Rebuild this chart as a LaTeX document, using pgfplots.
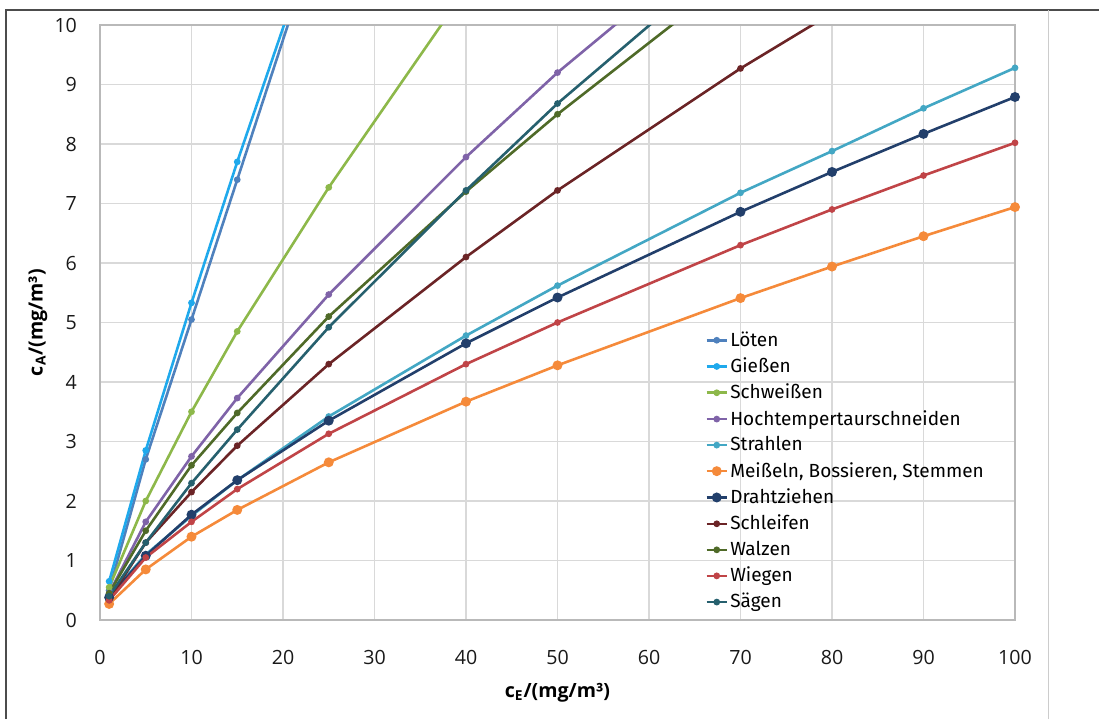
\documentclass[border=0pt]{standalone}
\usepackage{fontspec}
\setmainfont{Open Sans}
\newfontfamily\legfont{Fira Sans}
\usepackage{pgfplots}
\pgfplotsset{compat=1.18}
\definecolor{cLoeten}{HTML}{4F81BD}
\definecolor{cGiessen}{HTML}{1FA9EC}
\definecolor{cSchweissen}{HTML}{8DB84A}
\definecolor{cHoch}{HTML}{7F63A8}
\definecolor{cStrahlen}{HTML}{43A7C4}
\definecolor{cMeissel}{HTML}{F58A3A}
\definecolor{cDraht}{HTML}{223F6B}
\definecolor{cSchleifen}{HTML}{6B2426}
\definecolor{cWalzen}{HTML}{4F6A28}
\definecolor{cWiegen}{HTML}{C04447}
\definecolor{cSaegen}{HTML}{26606E}
\definecolor{gridc}{HTML}{D9D9D9}
\begin{document}
\begin{tikzpicture}
\useasboundingbox (0,0) rectangle (549.5pt,359.5pt);
\draw[gray!60!black, line width=1pt] (3pt,0) -- (3pt,354.5pt) -- (549.5pt,354.5pt);
\draw[gray!40, line width=0.5pt] (524pt,0) -- (524pt,354.5pt);
\begin{axis}[
  at={(50pt,49.5pt)}, anchor=origin,
  scale only axis, width=457.5pt, height=297.5pt,
  xmin=0, xmax=100, ymin=0, ymax=10,
  xtick={0,10,...,100}, ytick={0,1,...,10},
  grid=major, major grid style={gridc, line width=0.6pt},
  axis line style={gray!55, line width=0.6pt},
  major tick length=0pt,
  /pgf/number format/assume math mode=true,
  tick label style={font=\fontsize{9.8}{11}\selectfont, text=black!90},
  xticklabel style={yshift=-11.5pt},
  yticklabel style={xshift=-8pt},
  xlabel={\bfseries c\textsubscript{E}/(mg/m³)},
  ylabel={\bfseries c\textsubscript{A}/(mg/m³)},
  label style={font=\fontsize{9.8}{11}\selectfont},
  xlabel style={at={(axis description cs:0.5,-0.1227)}, anchor=center},
  ylabel style={at={(axis description cs:-0.0678,0.5)}, anchor=center},
  legend cell align=left,
  legend style={at={(0.661,0.489)}, anchor=north west, draw=none, fill=none,
    font=\legfont\fontsize{9.5}{11}\selectfont, row sep=2.25pt,
    inner sep=0pt, nodes={inner sep=1pt}},
  legend image code/.code={\draw[mark repeat=2,mark phase=2] plot coordinates {(0cm,0cm)(0.18cm,0cm)(0.36cm,0cm)};},
  every axis plot/.append style={line width=1.3pt, mark=*, mark size=1pt},
]
\addplot[color=cLoeten] coordinates {(1,0.5)(5,2.7)(10,5.05)(15,7.4)(25,12.1)};
\addlegendentry{Löten}
\addplot[color=cGiessen] coordinates {(1,0.65)(5,2.85)(10,5.33)(15,7.7)(25,12.2)};
\addlegendentry{Gießen}
\addplot[color=cSchweissen] coordinates {(1,0.55)(5,2.0)(10,3.5)(15,4.85)(25,7.27)(40,10.6)};
\addlegendentry{Schweißen}
\addplot[color=cHoch] coordinates {(1,0.45)(5,1.65)(10,2.75)(15,3.73)(25,5.47)(40,7.78)(50,9.2)(70,11.75)};
\addlegendentry{Hochtempertaurschneiden}
\addplot[color=cStrahlen] coordinates {(1,0.4)(5,1.1)(10,1.75)(15,2.35)(25,3.42)(40,4.78)(50,5.62)(70,7.18)(80,7.88)(90,8.6)(100,9.28)};
\addlegendentry{Strahlen}
\addplot[color=cMeissel, mark size=1.8pt] coordinates {(1,0.27)(5,0.85)(10,1.4)(15,1.85)(25,2.65)(40,3.67)(50,4.28)(70,5.41)(80,5.94)(90,6.45)(100,6.94)};
\addlegendentry{Meißeln, Bossieren, Stemmen}
\addplot[color=cDraht, mark size=1.8pt] coordinates {(1,0.38)(5,1.08)(10,1.77)(15,2.35)(25,3.35)(40,4.65)(50,5.42)(70,6.86)(80,7.53)(90,8.17)(100,8.79)};
\addlegendentry{Drahtziehen}
\addplot[color=cSchleifen] coordinates {(1,0.35)(5,1.3)(10,2.15)(15,2.93)(25,4.3)(40,6.1)(50,7.22)(70,9.27)(80,10.2)};
\addlegendentry{Schleifen}
\addplot[color=cWalzen] coordinates {(1,0.45)(5,1.5)(10,2.6)(15,3.48)(25,5.1)(40,7.2)(50,8.5)(70,10.9)};
\addlegendentry{Walzen}
\addplot[color=cWiegen] coordinates {(1,0.33)(5,1.05)(10,1.65)(15,2.2)(25,3.13)(40,4.3)(50,5.0)(70,6.3)(80,6.9)(90,7.47)(100,8.02)};
\addlegendentry{Wiegen}
\addplot[color=cSaegen] coordinates {(1,0.4)(5,1.3)(10,2.3)(15,3.2)(25,4.92)(40,7.22)(50,8.68)(70,11.3)};
\addlegendentry{Sägen}
\end{axis}
\end{tikzpicture}
\end{document}
